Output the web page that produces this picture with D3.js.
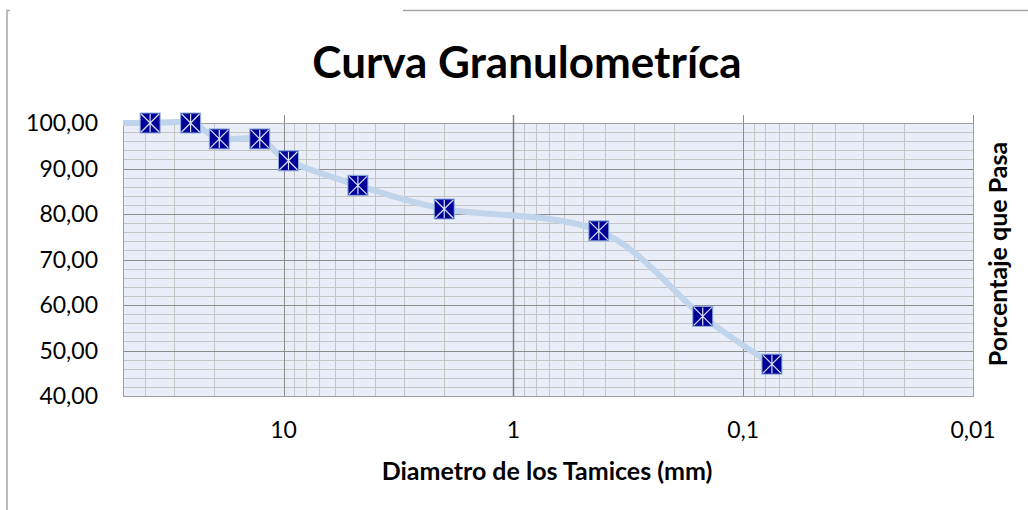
<!DOCTYPE html>
<meta charset="utf-8">
<style>
body { margin: 0; background: #fff; }
svg { display: block; font-family: Lato, "Open Sans", sans-serif; }
.grid-minor { stroke: #c4c4c4; stroke-width: 1px; }
.grid-major { stroke: #8c8c8c; stroke-width: 1px; }
.tick-label { font-size: 23px; fill: #000; }
.curve { fill: none; stroke: #c0d4ec; stroke-width: 6px; }
</style>
<svg width="1028" height="510"></svg>
<script src="https://d3js.org/d3.v7.min.js"></script>
<script>
// diametro (mm) y porcentaje que pasa
var diametros = [50.8, 38.1, 25.4, 19.05, 12.7, 9.525, 4.75, 2.0, 0.425, 0.15, 0.075];
var pasa      = [100.0, 100.0, 100.0, 96.5, 96.5, 91.7, 86.3, 81.1, 76.3, 57.5, 47.0];
var xTicks = [10, 1, 0.1, 0.01];
var yTicks = [40, 50, 60, 70, 80, 90, 100];
var titulo = "Curva Granulometríca";
var tituloX = "Diametro de los Tamices (mm)";
var tituloY = "Porcentaje que Pasa";

var svg = d3.select("svg"),
    plot = {left: 123, right: 973, top: 123, bottom: 396};

var x = d3.scaleLog().domain([50, 0.01]).range([plot.left, plot.right]),
    y = d3.scaleLinear().domain([40, 100]).range([plot.bottom, plot.top]);

var locale = d3.formatLocale({decimal: ",", thousands: ".", grouping: [3], currency: ["", ""]});
var fmtY = locale.format(".2f"),
    fmtX = locale.format("~g");

var data = diametros.map(function(d, i) { return {d: d, p: pasa[i]}; });

// outer frame (partly visible)
svg.append("path")
    .attr("d", "M7,510V10.5H10M403,10.5H1028")
    .attr("fill", "none")
    .attr("stroke", "#a6a6a6")
    .attr("stroke-width", 1.5);

// title
svg.append("text")
    .attr("x", 527).attr("y", 78)
    .attr("text-anchor", "middle")
    .style("font-weight", "bold").style("font-size", "44px")
    .text(titulo);

// plot background
svg.append("rect")
    .attr("x", plot.left).attr("y", plot.top)
    .attr("width", plot.right - plot.left).attr("height", plot.bottom - plot.top)
    .attr("fill", "#e8edf7");

// grid: minor verticals
var minorX = [];
[-3, -2, -1, 0, 1].forEach(function(k) {
  for (var m = 2; m <= 9; m++) {
    var v = m * Math.pow(10, k);
    if (v < 50 && v > 0.01) minorX.push(v);
  }
});
var minorY = d3.range(40, 101, 2).filter(function(v) { return v % 10 !== 0; });

var grid = svg.append("g");
grid.selectAll(".mx").data(minorX).enter().append("line")
    .attr("class", "grid-minor")
    .attr("x1", function(d) { return Math.round(x(d)) + 0.5; })
    .attr("x2", function(d) { return Math.round(x(d)) + 0.5; })
    .attr("y1", plot.top).attr("y2", plot.bottom);
grid.selectAll(".my").data(minorY).enter().append("line")
    .attr("class", "grid-minor")
    .attr("y1", function(d) { return Math.round(y(d)) + 0.5; })
    .attr("y2", function(d) { return Math.round(y(d)) + 0.5; })
    .attr("x1", plot.left).attr("x2", plot.right);
grid.selectAll(".Mx").data(xTicks).enter().append("line")
    .attr("class", "grid-major")
    .attr("x1", function(d) { return Math.round(x(d)) + 0.5; })
    .attr("x2", function(d) { return Math.round(x(d)) + 0.5; })
    .attr("y1", plot.top - 8).attr("y2", plot.bottom);
grid.selectAll(".My").data(yTicks).enter().append("line")
    .attr("class", "grid-major")
    .attr("y1", function(d) { return Math.round(y(d)) + 0.5; })
    .attr("y2", function(d) { return Math.round(y(d)) + 0.5; })
    .attr("x1", plot.left).attr("x2", plot.right);

// plot border
svg.append("rect")
    .attr("x", plot.left + 0.5).attr("y", plot.top + 0.5)
    .attr("width", plot.right - plot.left).attr("height", plot.bottom - plot.top)
    .attr("fill", "none").attr("stroke", "#a0a0a0");

// vertical axis crosses at x = 1
svg.append("line")
    .attr("x1", Math.round(x(1)) + 0.5).attr("x2", Math.round(x(1)) + 0.5)
    .attr("y1", plot.top - 8).attr("y2", plot.bottom)
    .attr("stroke", "#7f7f7f").attr("stroke-width", 1.5);

// tick labels
svg.append("g").selectAll("text").data(yTicks).enter().append("text")
    .attr("class", "tick-label")
    .attr("x", 98).attr("y", function(d) { return y(d); })
    .attr("dy", "0.36em")
    .attr("text-anchor", "end")
    .text(fmtY);
svg.append("g").selectAll("text").data(xTicks).enter().append("text")
    .attr("class", "tick-label")
    .attr("x", function(d) { return x(d); }).attr("y", 430)
    .attr("dy", "0.36em")
    .attr("text-anchor", "middle")
    .text(fmtX);

// axis titles
svg.append("text")
    .attr("x", 547).attr("y", 480)
    .attr("text-anchor", "middle")
    .style("font-weight", "bold").style("font-size", "25px")
    .text(tituloX);
svg.append("text")
    .attr("transform", "translate(1007,254) rotate(-90)")
    .attr("text-anchor", "middle")
    .style("font-weight", "bold").style("font-size", "25px")
    .text(tituloY);

// curve
svg.append("clipPath").attr("id", "clip").append("rect")
    .attr("x", plot.left).attr("y", plot.top - 10)
    .attr("width", plot.right - plot.left).attr("height", plot.bottom - plot.top + 10);

var line = d3.line()
    .curve(d3.curveCatmullRom.alpha(0))
    .x(function(d) { return x(d.d); })
    .y(function(d) { return y(d.p); });

svg.append("path")
    .datum(data)
    .attr("class", "curve")
    .attr("clip-path", "url(#clip)")
    .attr("d", line);

// markers
var s = 10;
var mk = svg.append("g").selectAll("g")
    .data(data.filter(function(d) { return d.d <= 50; }))
  .enter().append("g")
    .attr("transform", function(d) { return "translate(" + x(d.d) + "," + y(d.p) + ")"; });
mk.append("rect")
    .attr("x", -s).attr("y", -s).attr("width", 2 * s).attr("height", 2 * s)
    .attr("fill", "#000099").attr("stroke", "#8fb0e0").attr("stroke-width", 1);
mk.append("path")
    .attr("d", "M" + (-s + 1) + "," + (-s + 1) + "L" + (s - 1) + "," + (s - 1) +
               "M" + (s - 1) + "," + (-s + 1) + "L" + (-s + 1) + "," + (s - 1) +
               "M0," + (-s + 1) + "V" + (s - 1))
    .attr("stroke", "#d8e2f4").attr("stroke-width", 1.2).attr("fill", "none");
</script>
